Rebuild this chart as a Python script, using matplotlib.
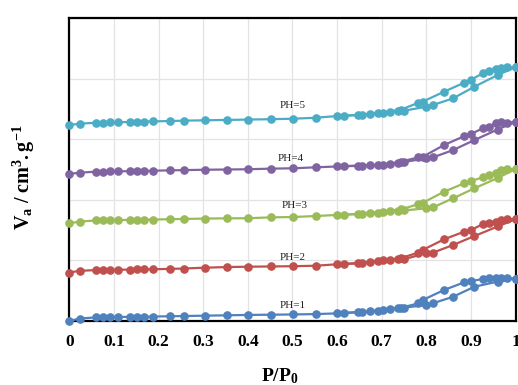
import matplotlib
matplotlib.use("Agg")
import matplotlib.pyplot as plt

plt.rcParams['font.family'] = ['Liberation Serif', 'DejaVu Serif']
plt.rcParams['mathtext.fontset'] = 'custom'
plt.rcParams['mathtext.rm'] = 'Liberation Serif'
plt.rcParams['mathtext.it'] = 'Liberation Serif:italic'
plt.rcParams['mathtext.bf'] = 'Liberation Serif:bold'

# relative pressure of the adsorption and desorption points
ads_x = [0.000, 0.023, 0.060, 0.075, 0.092, 0.110, 0.136, 0.151, 0.168, 0.187,
         0.226, 0.256, 0.304, 0.354, 0.401, 0.451, 0.502, 0.552, 0.600, 0.647,
         0.692, 0.737, 0.750, 0.800, 0.815, 0.860, 0.908, 0.960, 1.000]
des_x = [1.000, 0.980, 0.968, 0.957, 0.940, 0.927, 0.900, 0.885, 0.840, 0.792,
         0.782, 0.744, 0.718, 0.703, 0.673, 0.655, 0.615]

# adsorbed volume (curves offset vertically for clarity)
ph1_ads = [0.0, 2.0, 3.0, 3.0, 3.2, 3.3, 3.4, 3.5, 3.5, 3.7, 3.9, 4.1, 4.4, 4.7,
           5.0, 5.2, 5.4, 5.7, 6.3, 7.2, 8.5, 10.5, 11.0, 13.2, 14.6, 20.0, 28.3,
           32.5, 35.0]
ph1_des = [35.0, 35.4, 35.5, 35.4, 35.2, 34.6, 33.0, 31.9, 25.6, 17.3, 14.5,
           11.0, 9.7, 9.0, 8.0, 7.6, 6.6]

ph2_ads = [40.0, 41.4, 42.0, 42.0, 42.2, 42.3, 42.4, 42.5, 42.5, 42.7, 43.0,
           43.3, 44.0, 44.5, 44.8, 45.0, 45.2, 45.6, 46.8, 47.6, 49.5, 51.5,
           51.0, 55.9, 56.4, 62.7, 70.1, 78.0, 84.0]
ph2_des = [84.0, 84.0, 83.3, 82.0, 80.6, 80.0, 75.0, 73.7, 67.4, 58.6, 56.4,
           52.0, 50.5, 50.0, 48.8, 48.0, 47.0]

ph3_ads = [80.6, 82.0, 83.0, 83.0, 83.2, 83.3, 83.4, 83.5, 83.5, 83.7, 84.0,
           84.2, 84.5, 84.7, 84.8, 85.5, 85.8, 86.6, 87.5, 88.2, 89.5, 91.0,
           91.2, 93.0, 93.8, 101.2, 109.5, 118.0, 125.4]
ph3_des = [125.4, 125.2, 124.5, 122.4, 120.5, 118.5, 115.5, 113.6, 106.7, 97.5,
           96.5, 92.0, 91.0, 90.2, 89.4, 88.5, 87.8]

ph4_ads = [121.3, 122.4, 123.2, 123.2, 123.4, 123.5, 123.6, 123.7, 123.8,
           124.0, 124.3, 124.5, 124.8, 125.0, 125.2, 125.7, 126.0, 126.8, 127.5,
           128.0, 128.5, 130.6, 131.2, 134.2, 135.0, 141.0, 149.3, 158.0, 164.4]
ph4_des = [164.4, 163.6, 164.4, 163.6, 159.8, 159.0, 154.3, 152.5, 145.2, 135.5,
           135.0, 131.5, 129.8, 129.0, 128.5, 128.3, 127.8]

ph5_ads = [161.7, 162.8, 163.6, 163.6, 163.8, 164.0, 164.2, 164.4, 164.5,
           164.7, 165.0, 165.3, 165.6, 165.9, 166.2, 166.5, 166.9, 167.7, 169.1,
           170.0, 171.5, 173.5, 173.5, 176.8, 178.2, 183.7, 193.3, 203.0, 209.3]
ph5_des = [209.3, 209.3, 208.8, 207.7, 206.0, 204.4, 199.0, 196.6, 189.2, 181.0,
           180.0, 174.5, 172.7, 172.0, 170.8, 170.2, 169.3]

labels = ['PH=1', 'PH=2', 'PH=3', 'PH=4', 'PH=5']
colors = ['#4F81BD', '#C0504D', '#9BBB59', '#8064A2', '#4BACC6']
label_xy = [(0.50, 12.4), (0.50, 52.8), (0.505, 95.7), (0.497, 133.7), (0.50, 178.0)]

series = [(ph1_ads, ph1_des), (ph2_ads, ph2_des), (ph3_ads, ph3_des),
          (ph4_ads, ph4_des), (ph5_ads, ph5_des)]

fig = plt.figure(figsize=(5.18, 3.85), dpi=100)
ax = fig.add_axes([69.3 / 518, 1 - 321 / 385, (515.5 - 69.3) / 518, (321 - 18) / 385])

for (ya, yd), c, lab, (lx, ly) in zip(series, colors, labels, label_xy):
    ax.plot(ads_x, ya, '-o', color=c, lw=1.6, ms=5.2, clip_on=False, zorder=3)
    ax.plot(des_x, yd, '-o', color=c, lw=1.6, ms=5.2, clip_on=False, zorder=3)
    ax.text(lx, ly, lab, ha='center', va='center', fontsize=8, color='#222222')

ax.set_xlim(0, 1)
ax.set_ylim(0, 250)
ax.set_xticks([i / 10 for i in range(11)])
ax.set_xticklabels(['0', '0.1', '0.2', '0.3', '0.4', '0.5', '0.6', '0.7', '0.8',
                    '0.9', '1'], fontsize=12.5, fontweight='bold')
ax.set_yticks([0, 50, 100, 150, 200, 250])
ax.set_yticklabels([])
ax.tick_params(length=0, pad=9)
ax.grid(True, color='#e3e3e3', lw=0.9)
ax.set_axisbelow(True)
for s in ax.spines.values():
    s.set_linewidth(1.6)
    s.set_color('black')

ax.set_xlabel(r'$\mathbf{P/P_0}$', fontsize=14)
ax.xaxis.set_label_coords(0.472, -0.148)
ax.set_ylabel(r'$\mathbf{V_a\ /\ cm^3.g^{-1}}$', fontsize=14.5)
ax.yaxis.set_label_coords(-0.072, 0.475)

fig.savefig('out.png', dpi=100)
